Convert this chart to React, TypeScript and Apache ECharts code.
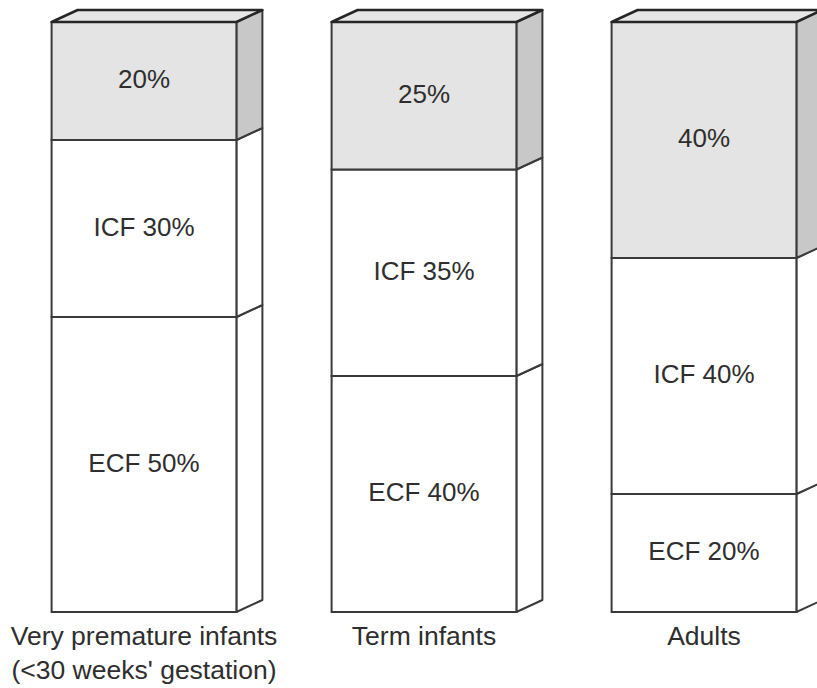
import React, { useEffect, useRef } from "react";
import * as echarts from "echarts";

const categories = [
  "Very premature infants\n(<30 weeks' gestation)",
  "Term infants",
  "Adults",
];
const ecfValues = [50, 40, 20];
const icfValues = [30, 35, 40];
const topValues = [20, 25, 40];

type Seg = {
  cat: number;
  start: number;
  end: number;
  label: string;
  shaded: boolean;
  isTop: boolean;
};

export default function App() {
  const ref = useRef<HTMLDivElement>(null);
  useEffect(() => {
    const chart = echarts.init(ref.current!, null, { renderer: "svg" });
    const segs: Seg[] = [];
    categories.forEach((_, i) => {
      const parts = [
        { name: "ECF", v: ecfValues[i], shaded: false },
        { name: "ICF", v: icfValues[i], shaded: false },
        { name: "", v: topValues[i], shaded: true },
      ];
      let s = 0;
      parts.forEach((p, k) => {
        segs.push({
          cat: i,
          start: s,
          end: s + p.v,
          label: p.name ? `${p.name} ${p.v}%` : `${p.v}%`,
          shaded: p.shaded,
          isTop: k === parts.length - 1,
        });
        s += p.v;
      });
    });
    const DX = 26;
    const DY = 12;
    const stroke = "#3a3a3a";
    const renderItem = (params: any, api: any) => {
      const seg = segs[params.dataIndex];
      const band = api.size([1, 0])[0];
      const w = band * 0.66;
      const pBot = api.coord([seg.cat, seg.start]);
      const pTop = api.coord([seg.cat, seg.end]);
      const x1 = pBot[0] - w / 2;
      const x2 = pBot[0] + w / 2;
      const yT = pTop[1];
      const yB = pBot[1];
      const children: any[] = [];
      children.push({
        type: "polygon",
        shape: {
          points: [
            [x2, yB],
            [x2, yT],
            [x2 + DX, yT - DY],
            [x2 + DX, yB - DY],
          ],
        },
        style: {
          fill: seg.shaded ? "#c8c8c8" : "#ffffff",
          stroke,
          lineWidth: 2,
          lineJoin: "round",
        },
      });
      children.push({
        type: "rect",
        shape: { x: x1, y: yT, width: w, height: yB - yT },
        style: {
          fill: seg.shaded ? "#e4e4e4" : "#ffffff",
          stroke,
          lineWidth: 2,
        },
      });
      if (seg.isTop) {
        children.push({
          type: "polygon",
          shape: {
            points: [
              [x1, yT],
              [x1 + DX, yT - DY],
              [x2 + DX, yT - DY],
              [x2, yT],
            ],
          },
          style: {
            fill: "#e6e6e6",
            stroke: "#262626",
            lineWidth: 2.5,
            lineJoin: "round",
          },
        });
      }
      children.push({
        type: "text",
        style: {
          text: seg.label,
          x: pBot[0],
          y: (yT + yB) / 2 - 2,
          align: "center",
          verticalAlign: "middle",
          fontSize: 26,
          fontFamily: "Liberation Sans",
          fill: "#2e2e2e",
        },
      });
      return { type: "group", children };
    };

    chart.setOption({
      animation: false,
      backgroundColor: "#ffffff",
      grid: {
        left: 4,
        top: 22,
        width: 840,
        height: 590,
        containLabel: false,
        outerBoundsMode: "none",
      },
      xAxis: {
        type: "category",
        data: categories,
        axisLine: { show: false },
        axisTick: { show: false },
        splitLine: { show: false },
        axisLabel: {
          interval: 0,
          margin: 7,
          fontSize: 26.5,
          lineHeight: 34,
          fontFamily: "Liberation Sans",
          color: "#2e2e2e",
        },
      },
      yAxis: {
        type: "value",
        min: 0,
        max: 100,
        show: false,
        splitLine: { show: false },
      },
      series: [
        {
          type: "custom",
          renderItem,
          clip: false,
          encode: { x: 0, y: [1, 2] },
          data: segs.map((s) => [s.cat, s.start, s.end]),
        },
      ],
    });
    return () => chart.dispose();
  }, []);
  return (
    <div
      ref={ref}
      style={{
        position: "fixed",
        left: 0,
        top: 0,
        width: 817,
        height: 688,
        background: "#fff",
      }}
    />
  );
}
